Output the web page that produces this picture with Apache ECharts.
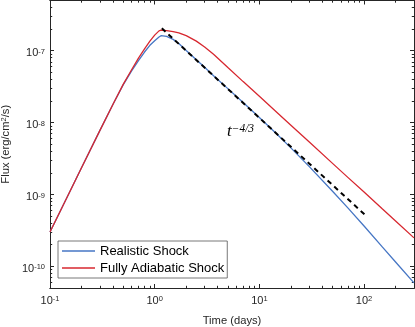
<!DOCTYPE html>
<html><head><meta charset="utf-8">
<script src="https://cdn.jsdelivr.net/npm/echarts@6/dist/echarts.min.js"></script>
<style>html,body{margin:0;padding:0;background:#fff}#c{width:415px;height:327px}</style>
</head><body><div id="c"></div>
<script>
const seriesNames = ['Realistic Shock', 'Fully Adiabatic Shock'];
const days = [0.1, 0.15, 0.2, 0.3, 0.4, 0.5, 0.6, 0.7, 0.8, 0.9, 1.0, 1.1, 1.15, 1.3, 1.5, 1.7, 2, 2.5, 3, 3.65, 5, 7, 10, 15, 20, 30, 50, 70, 100, 150, 200, 300];
const realisticFlux = [3.0e-10, 1.0e-9, 2.35e-9, 7.8e-9, 1.8e-8, 3.35e-8, 5.2e-8, 7.3e-8, 9.6e-8, 1.19e-7, 1.38e-7, 1.55e-7, 1.62e-7, 1.58e-7, 1.44e-7, 1.26e-7, 1.01e-7, 7.5e-8, 5.9e-8, 4.5e-8, 2.97e-8, 1.9e-8, 1.18e-8, 6.72e-9, 4.45e-9, 2.44e-9, 1.11e-9, 6.52e-10, 3.64e-10, 1.85e-10, 1.15e-10, 5.89e-11];
const adiabaticFlux = [3.0e-10, 1.0e-9, 2.35e-9, 7.8e-9, 1.8e-8, 3.4e-8, 5.4e-8, 7.9e-8, 1.06e-7, 1.36e-7, 1.65e-7, 1.89e-7, 1.93e-7, 1.91e-7, 1.85e-7, 1.77e-7, 1.62e-7, 1.36e-7, 1.13e-7, 8.96e-8, 5.84e-8, 3.72e-8, 2.32e-8, 1.35e-8, 9.2e-9, 5.36e-9, 2.71e-9, 1.73e-9, 1.08e-9, 6.28e-10, 4.28e-10, 2.49e-10];
const refLineDays = [1.17, 107];
const refLineFlux = [2.05e-7, 4.9e-10];
const refLabelBase = 't';
const refLabelExp = '\u22124/3';
const xMajorTicks = [0.1, 1, 10, 100];
const yMajorTicks = [1e-10, 1e-9, 1e-8, 1e-7];
const xMinorTicks = [0.2,0.3,0.4,0.5,0.6,0.7,0.8,0.9, 2,3,4,5,6,7,8,9, 20,30,40,50,60,70,80,90, 200];
const yMinorTicks = [6e-11,7e-11,8e-11,9e-11, 2e-10,3e-10,4e-10,5e-10,6e-10,7e-10,8e-10,9e-10, 2e-9,3e-9,4e-9,5e-9,6e-9,7e-9,8e-9,9e-9, 2e-8,3e-8,4e-8,5e-8,6e-8,7e-8,8e-8,9e-8, 2e-7,3e-7,4e-7];
const xTitle = 'Time (days)';
const yTitle = 'Flux (erg/cm{s|2}/s)';

const FONT = 'Liberation Sans, Arial, Helvetica, sans-serif';
const AX = '#262626';
const chart = echarts.init(document.getElementById('c'), null, {renderer: 'canvas'});

function pow10Label(v) {
  const e = Math.round(Math.log10(v));
  return '{b|10}{e|' + e + '}';
}
const labelRich = {
  b: {fontSize: 11, fontFamily: FONT, color: AX, verticalAlign: 'bottom', lineHeight: 11},
  e: {fontSize: 7.5, fontFamily: FONT, color: AX, verticalAlign: 'top', lineHeight: 8, padding: [0, 0, 5, 0]}
};
function xAxisDef(pos, ticks, len, main) {
  return {
    type: 'log', logBase: 10, min: 0.1, max: 300, gridIndex: 0, position: pos,
    axisLine: {show: true, onZero: false, lineStyle: {color: AX, width: 1}},
    axisTick: {show: true, inside: true, length: len, customValues: ticks, lineStyle: {color: AX, width: 1}},
    axisLabel: main ? {show: true, customValues: xMajorTicks, formatter: pow10Label, margin: 7, rich: labelRich} : {show: false},
    splitLine: {show: false}, minorTick: {show: false},
    name: main ? xTitle : '', nameLocation: 'middle', nameGap: 27,
    nameTextStyle: {fontSize: 11.2, fontFamily: FONT, color: AX}
  };
}
function yAxisDef(pos, ticks, len, main) {
  return {
    type: 'log', logBase: 10, min: 5e-11, max: 5e-7, gridIndex: 0, position: pos,
    axisLine: {show: true, onZero: false, lineStyle: {color: AX, width: 1}},
    axisTick: {show: true, inside: true, length: len, customValues: ticks, lineStyle: {color: AX, width: 1}},
    axisLabel: main ? {show: true, customValues: yMajorTicks, formatter: pow10Label, margin: 5, padding: [5, 0, 0, 0], rich: labelRich} : {show: false},
    splitLine: {show: false}, minorTick: {show: false},
    name: main ? yTitle : '', nameLocation: 'middle', nameGap: 36, nameRotate: 90,
    nameTextStyle: {fontSize: 11.2, fontFamily: FONT, color: AX,
      rich: {s: {fontSize: 7.5, fontFamily: FONT, color: AX, verticalAlign: 'top', padding: [0,0,4,0]}}}
  };
}

const option = {
  animation: false,
  backgroundColor: '#fff',
  grid: {left: 50, right: 1, top: 0.5, bottom: 39, containLabel: false, outerBoundsMode: 'none'},
  legend: {
    data: seriesNames.map(n => ({name: n, icon: 'rect'})), orient: 'vertical', left: 58, top: 241,
    backgroundColor: '#fff', borderColor: '#555', borderWidth: 0.8, borderRadius: 0,
    padding: [3, 3, 3, 4], itemWidth: 33, itemHeight: 1.4, itemGap: 3,
    textStyle: {fontSize: 13, lineHeight: 14, fontFamily: FONT, color: '#000'}
  },
  xAxis: [
    xAxisDef('bottom', xMajorTicks, 4, true),
    xAxisDef('top', xMajorTicks, 4, false),
    xAxisDef('bottom', xMinorTicks, 2.2, false),
    xAxisDef('top', xMinorTicks, 2.2, false)
  ],
  yAxis: [
    yAxisDef('left', yMajorTicks, 4, true),
    yAxisDef('right', yMajorTicks, 4, false),
    yAxisDef('left', yMinorTicks, 2.2, false),
    yAxisDef('right', yMinorTicks, 2.2, false)
  ],
  series: [
    {
      name: seriesNames[0], type: 'line', symbol: 'none', showSymbol: false,
      xAxisIndex: 0, yAxisIndex: 0,
      data: days.map((d, i) => [d, realisticFlux[i]]),
      lineStyle: {color: '#4676c4', width: 1.3}, itemStyle: {color: '#4676c4'}, z: 2
    },
    {
      name: seriesNames[1], type: 'line', symbol: 'none', showSymbol: false,
      xAxisIndex: 0, yAxisIndex: 0,
      data: days.map((d, i) => [d, adiabaticFlux[i]]),
      lineStyle: {color: '#d7272f', width: 1.3}, itemStyle: {color: '#d7272f'}, z: 3
    },
    {
      name: 'ref', type: 'line', symbol: 'none', showSymbol: false,
      xAxisIndex: 0, yAxisIndex: 0,
      data: refLineDays.map((d, i) => [d, refLineFlux[i]]),
      lineStyle: {color: '#000', width: 2, type: [5, 4]}, z: 4,
      markPoint: {
        symbol: 'circle', symbolSize: 0, silent: true,
        data: [{coord: [4.9, 7.4e-9]}],
        label: {
          show: true, position: 'right', distance: 0,
          formatter: '{t|' + refLabelBase + '}{s|' + refLabelExp + '}',
          rich: {
            t: {fontSize: 17, fontStyle: 'italic', fontFamily: 'Liberation Serif, DejaVu Serif, serif', color: '#000', lineHeight: 18, verticalAlign: 'middle'},
            s: {fontSize: 11.5, fontStyle: 'italic', fontFamily: 'Liberation Serif, DejaVu Serif, serif', color: '#000', lineHeight: 11, verticalAlign: 'top'}
          }
        }
      }
    }
  ]
};
chart.setOption(option);
</script>
</body></html>
